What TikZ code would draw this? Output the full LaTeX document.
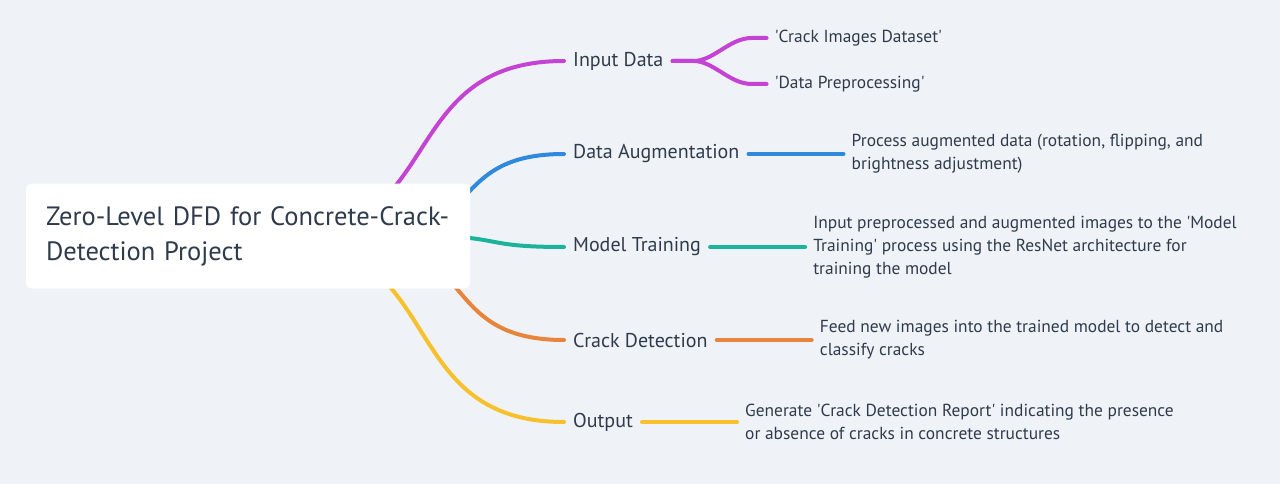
\documentclass[tikz,border=0pt]{standalone}
\usepackage{fontspec}
\setmainfont{PT Sans}
\usetikzlibrary{positioning}
\definecolor{bgc}{HTML}{EFF3F7}
\definecolor{ink}{HTML}{2F3B4C}
\definecolor{cpurple}{HTML}{C443D4}
\definecolor{cblue}{HTML}{2F8ADE}
\definecolor{cteal}{HTML}{1BB39A}
\definecolor{corange}{HTML}{E8843B}
\definecolor{cyellow}{HTML}{F6C12C}
\pgfdeclarelayer{back}
\pgfsetlayers{back,main}
\newcommand{\sq}[1]{\textquotesingle#1\textquotesingle}
\begin{document}
\begin{tikzpicture}[x=1pt,y=-1pt,
    rootbox/.style={fill=white, rounded corners=6pt, text=ink, align=left,
        text width=404pt, inner xsep=20pt, minimum height=105pt,
        font=\fontsize{26.5}{35}\selectfont},
    branch/.style={anchor=west, text=ink, inner xsep=9pt,
        font=\fontsize{20}{23}\selectfont},
    leaf/.style={text=ink, align=left, inner xsep=8pt,
        font=\fontsize{17.4}{23}\selectfont},
    link/.style={line width=4pt, line cap=round}]
\useasboundingbox (0,0) rectangle (1280,484);
\begin{pgfonlayer}{back}
\fill[bgc] (0,0) rectangle (1280,484);
\end{pgfonlayer}

\node[rootbox] (root) at (248,236) {Zero-Level DFD for Concrete-Crack-\\Detection Project};

\foreach \nome/\testo/\colore/\ypos/\dx/\dy/\k in {indata/Input Data/cpurple/61/29/3/172,
    augment/Data Augmentation/cblue/154/117/3/119,
    training/Model Training/cteal/247/172/0/86,
    detect/Crack Detection/corange/340/103/3/128,
    output/Output/cyellow/422/29/3/172}
    {
        \node[branch] (\nome) at (564,\ypos) {\testo};
        \begin{pgfonlayer}{back}
        \draw[link,\colore] (root.center) ++(\dx,\dy) .. controls +(\k,0) and +(-\k,0) .. (\nome.west);
        \end{pgfonlayer}
    }

% leaves
\node[leaf, right=94pt of indata, yshift=23pt] (crackimg) {\sq{Crack Images Dataset}};
\node[leaf, right=94pt of indata, yshift=-23pt] (prepro) {\sq{Data Preprocessing}};
\node[leaf, right=95pt of augment] (augdata) {Process augmented data (rotation, flipping, and\\brightness adjustment)};
\node[leaf, right=95pt of training] (trainres) {Input preprocessed and augmented images to the \sq{Model\\Training} process using the ResNet architecture for\\training the model};
\node[leaf, right=95pt of detect] (feednew) {Feed new images into the trained model to detect and\\classify cracks};
\node[leaf, right=95pt of output] (report) {Generate \sq{Crack Detection Report} indicating the presence\\or absence of cracks in concrete structures};

\draw[link,cpurple] (indata.east) -- ++(21,0) .. controls +(20,0) and +(-22,0) .. ([xshift=-15pt]crackimg.west) -- (crackimg.west);
\draw[link,cpurple] (indata.east) -- ++(21,0) .. controls +(20,0) and +(-22,0) .. ([xshift=-15pt]prepro.west) -- (prepro.west);
\draw[link,cblue] (augment) -- (augdata);
\draw[link,cteal] (training) -- (trainres);
\draw[link,corange] (detect) -- (feednew);
\draw[link,cyellow] (output) -- (report);
\end{tikzpicture}
\end{document}
